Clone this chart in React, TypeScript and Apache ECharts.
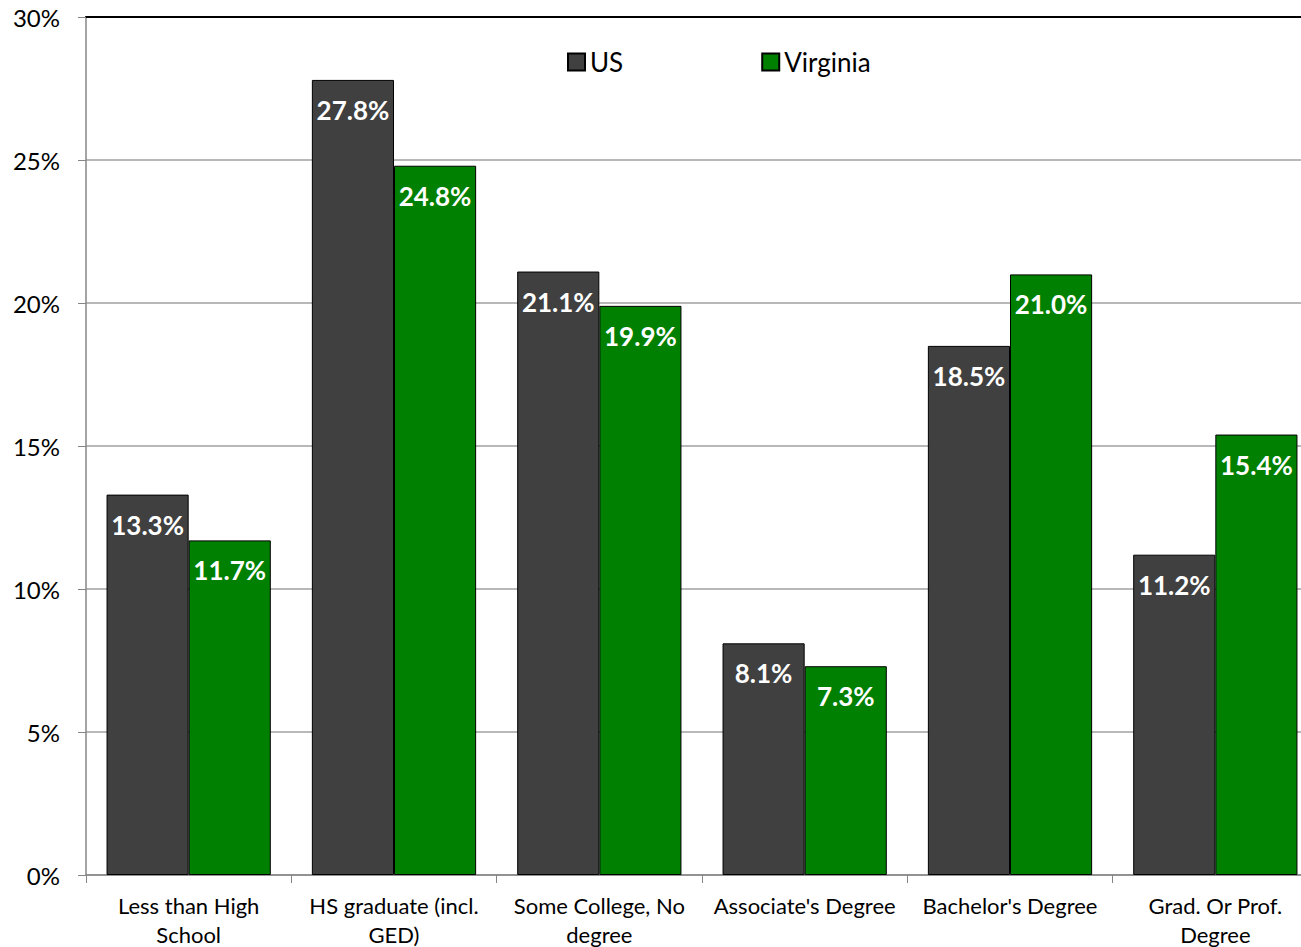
import React, { useEffect, useRef } from "react";
import * as echarts from "echarts";

const categories = [
  "Less than High\nSchool",
  "HS graduate (incl.\nGED)",
  "Some College, No\ndegree",
  "Associate's Degree",
  "Bachelor's Degree",
  "Grad. Or Prof.\nDegree",
];
const usValues = [13.3, 27.8, 21.1, 8.1, 18.5, 11.2];
const virginiaValues = [11.7, 24.8, 19.9, 7.3, 21.0, 15.4];
const yTicks = { min: 0, max: 30, interval: 5 };

const FONT = "Lato, 'Noto Sans', sans-serif";

export default function App() {
  const ref = useRef<HTMLDivElement>(null);
  useEffect(() => {
    if (!ref.current) return;
    const chart = echarts.init(ref.current, undefined, { renderer: "svg" });
    const labelCfg = {
      show: true,
      position: "insideTop",
      distance: 17,
      color: "#ffffff",
      fontWeight: "bold",
      fontSize: 26,
      fontFamily: FONT,
      formatter: (p: any) => Number(p.value).toFixed(1) + "%",
    };
    chart.setOption({
      animation: false,
      backgroundColor: "#ffffff",
      textStyle: { fontFamily: FONT },
      grid: {
        left: 86,
        right: -17,
        top: 17,
        bottom: 72,
        containLabel: false,
        outerBoundsMode: "none",
      },
      legend: {
        left: 567,
        top: 49,
        padding: 0,
        itemWidth: 17,
        itemHeight: 17,
        itemGap: 138,
        icon: "rect",
        textStyle: { fontSize: 26, color: "#000", fontFamily: FONT },
        data: ["US", "Virginia"],
      },
      xAxis: [
        {
          type: "category",
          data: categories,
          axisLine: { show: true, lineStyle: { color: "#868686", width: 1.5 } },
          axisTick: { show: true, length: 8, lineStyle: { color: "#868686" } },
          axisLabel: {
            fontSize: 22,
            color: "#000",
            fontFamily: FONT,
            margin: 16,
            lineHeight: 29,
            interval: 0,
          },
        },
        {
          type: "category",
          position: "top",
          data: categories,
          axisLine: { show: true, lineStyle: { color: "#000", width: 2 } },
          axisTick: { show: false },
          axisLabel: { show: false },
        },
      ],
      yAxis: {
        type: "value",
        min: yTicks.min,
        max: yTicks.max,
        interval: yTicks.interval,
        axisLine: { show: true, lineStyle: { color: "#868686", width: 1.5 } },
        axisTick: { show: true, length: 8, lineStyle: { color: "#868686" } },
        axisLabel: {
          fontSize: 24,
          color: "#000",
          fontFamily: FONT,
          margin: 26,
          formatter: "{value}%",
        },
        splitLine: { show: true, lineStyle: { color: "#a0a0a0", width: 1.5 } },
      },
      series: [
        {
          name: "US",
          type: "bar",
          data: usValues,
          barGap: "0%",
          barCategoryGap: "20%",
          itemStyle: { color: "#404040", borderColor: "#000", borderWidth: 1 },
          label: labelCfg,
        },
        {
          name: "Virginia",
          type: "bar",
          data: virginiaValues,
          barGap: "0%",
          barCategoryGap: "20%",
          itemStyle: { color: "#008000", borderColor: "#000", borderWidth: 1 },
          label: labelCfg,
        },
      ],
    });
    return () => chart.dispose();
  }, []);
  return (
    <div
      ref={ref}
      style={{ position: "fixed", left: 0, top: 0, width: 1301, height: 947, background: "#fff" }}
    />
  );
}
